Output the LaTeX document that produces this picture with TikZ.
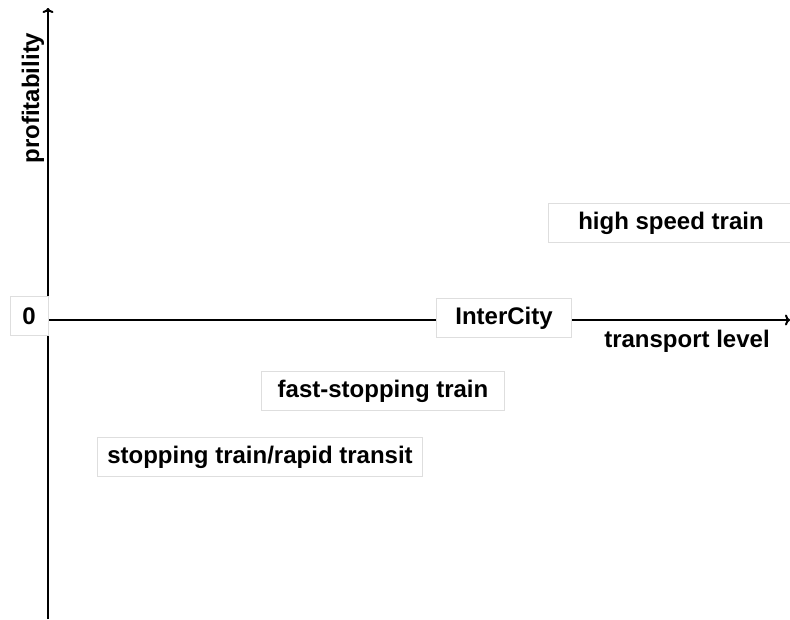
\documentclass[tikz,border=0pt]{standalone}
\usepackage{fontspec}
\setmainfont{Liberation Sans}
\usetikzlibrary{arrows.meta}
\begin{document}
\begin{tikzpicture}[x=1pt,y=-1pt]
        \tikzstyle{box_style} = [draw=black!13,fill=white,line width=1pt,inner sep=0pt,minimum height=39pt,font=\bfseries\fontsize{24}{28}\selectfont]
        \tikzstyle{label_style} = [inner sep=0pt,font=\bfseries\fontsize{24}{28}\selectfont]
        \tikzstyle{axis_style} = [draw=black,line width=2pt,-{To[length=5pt,width=11pt]}]
        \useasboundingbox (0,0) rectangle (790,619);
        % axes
        \coordinate (ybot) at (48,619);
        \coordinate (ytop) at (48,8);
        \coordinate (xleft) at (48,320);
        \coordinate (xright) at (790,320);
        \draw[axis_style] (ybot) -- (ytop);
        \draw[axis_style] (xleft) -- (xright);
        \node[label_style,rotate=90] (profit) at (33,98) {profitability};
        \node[label_style] (level) at (687,341) {transport level};
        % boxes
        \node[box_style,minimum width=38pt] (zero) at (29,316) {0};
        \node[box_style,minimum width=135pt] (ic) at (504,318) {InterCity};
        \node[box_style,minimum width=246pt] (hst) at (671,223) {high speed train};
        \node[box_style,minimum width=243pt] (fst) at (383,391) {fast-stopping train};
        \node[box_style,minimum width=325pt] (st) at (260,457) {stopping train/rapid transit};
      \end{tikzpicture}
\end{document}
